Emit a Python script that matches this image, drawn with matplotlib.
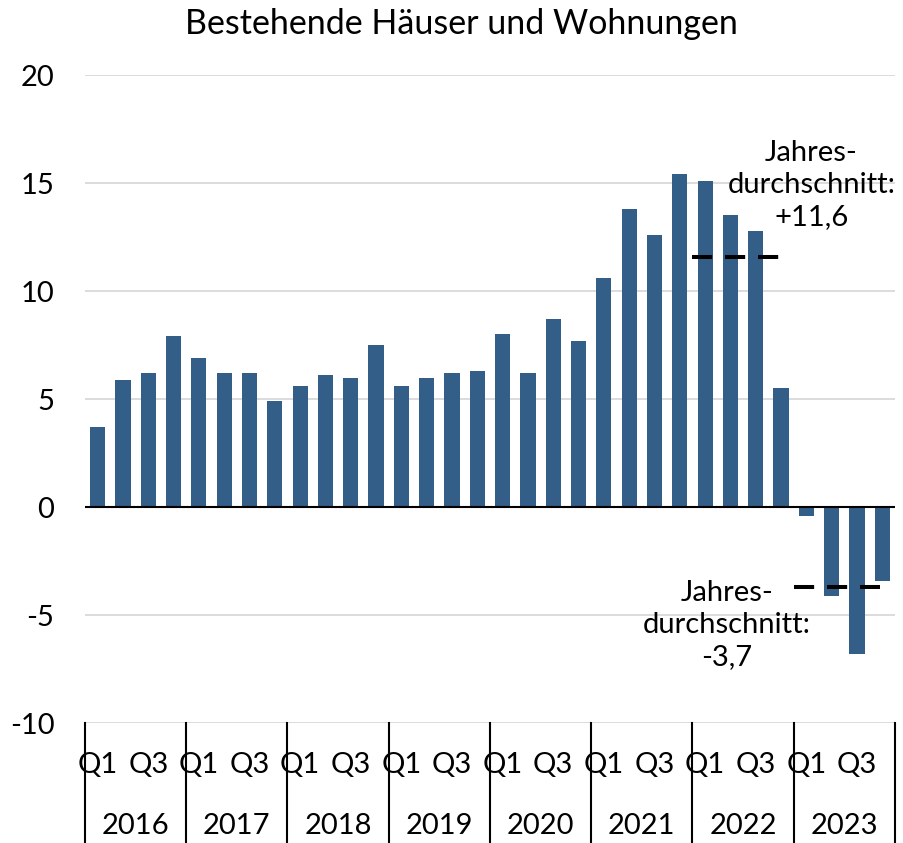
import numpy as np
import matplotlib.pyplot as plt
from matplotlib.transforms import blended_transform_factory

plt.rcParams['font.family'] = ['Lato', 'DejaVu Sans']

years = ['2016', '2017', '2018', '2019', '2020', '2021', '2022', '2023']
quarter_labels = ['Q1', '', 'Q3', '']
values = [3.7, 5.9, 6.2, 7.9,
          6.9, 6.2, 6.2, 4.9,
          5.6, 6.1, 6.0, 7.5,
          5.6, 6.0, 6.2, 6.3,
          8.0, 6.2, 8.7, 7.7,
          10.6, 13.8, 12.6, 15.4,
          15.1, 13.5, 12.8, 5.5,
          -0.4, -4.1, -6.8, -3.4]
avg_years = ['2022', '2023']
avg_values = [11.6, -3.7]
avg_labels = ['Jahres-\ndurchschnitt:\n+11,6', 'Jahres-\ndurchschnitt:\n-3,7']

fs = 21

fig = plt.figure(figsize=(9.04, 8.43), dpi=100)
ax = fig.add_axes([0.094, 0.142, 0.896, 0.769])

x = np.arange(len(values))
ax.bar(x, values, width=0.6, color='#325E88', zorder=2)

ax.set_xlim(-0.5, len(values) - 0.5)
ax.set_ylim(-10, 20)
ax.set_yticks([-10, -5, 0, 5, 10, 15, 20])
ax.set_yticklabels(['-10', '-5', '0', '5', '10', '15', '20'], fontsize=fs)
ax.tick_params(axis='y', length=0, pad=22)
ax.set_xticks([])
for s in ax.spines.values():
    s.set_visible(False)
ax.grid(axis='y', color='#d9d9d9', lw=1.3, zorder=0)
ax.axhline(0, color='black', lw=1.5, zorder=3)

# year separators and labels below the axis
tr = blended_transform_factory(ax.transData, ax.transAxes)
for k in range(len(years) + 1):
    ax.plot([4 * k - 0.5, 4 * k - 0.5], [0, -0.2], color='black', lw=1.5,
            transform=tr, clip_on=False)
for k, yr in enumerate(years):
    ax.text(4 * k + 1.5, -0.159, yr, transform=tr, ha='center', va='center', fontsize=fs)
    for q, ql in enumerate(quarter_labels):
        if ql:
            ax.text(4 * k + q, -0.064, ql, transform=tr, ha='center', va='center', fontsize=fs)

# yearly averages
for yr, av in zip(avg_years, avg_values):
    k = years.index(yr)
    ax.plot([4 * k - 0.5, 4 * k + 2.9], [av, av], color='black', lw=2.9,
            dashes=(5, 3.2), zorder=4)
ax.text(28.2, 14.9, avg_labels[0], ha='center', va='center', fontsize=fs,
        linespacing=1.3)
ax.text(24.87, -5.46, avg_labels[1], ha='center', va='center', fontsize=fs,
        linespacing=1.3)

fig.text(0.51, 0.972, 'Bestehende Häuser und Wohnungen', ha='center', va='center', fontsize=24.5)

plt.savefig('out.png', dpi=100)
